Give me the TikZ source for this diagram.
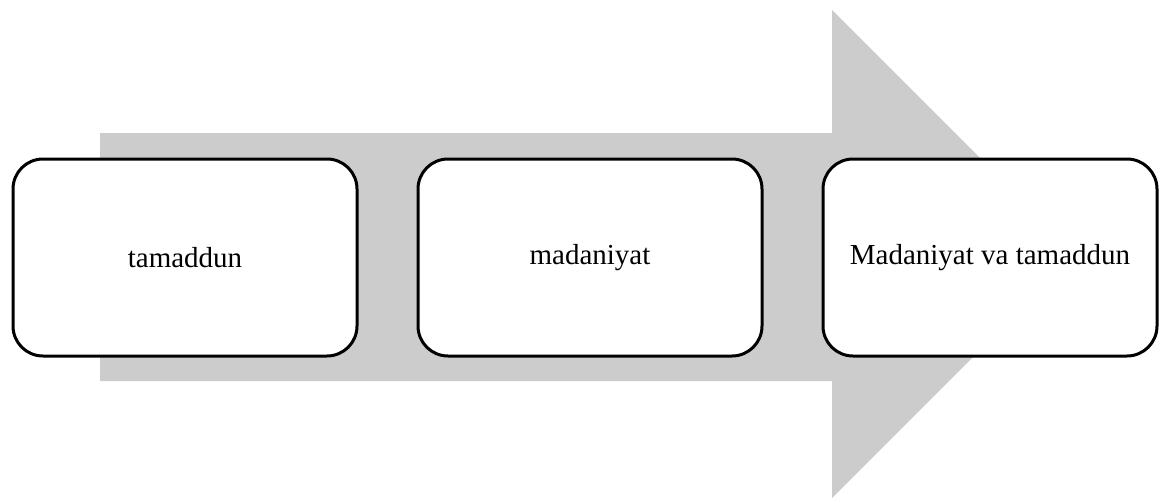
\documentclass[tikz,border=0pt]{standalone}
\usepackage{fontspec}
\setmainfont{Liberation Serif}
\usetikzlibrary{positioning}

\definecolor{arrowgray}{HTML}{CCCCCC}
\def\bigarrow{(100,133) -- (832,133) -- (832,10) -- (1076,254) -- (832,498) -- (832,381) -- (100,381) -- cycle}

\tikzset{
    stagebox/.style={draw, line width=3pt, rounded corners=30pt, fill=white,
        minimum width=344pt, minimum height=197pt, outer sep=0pt,
        inner sep=0pt, font=\fontsize{29}{34}\selectfont},
}

\begin{document}
\begin{tikzpicture}[x=1pt, y=-1pt, node distance=61pt]
    \useasboundingbox (0,0) rectangle (1160,499);
    % The gray arrow lies behind the three boxes
    \fill[arrowgray] \bigarrow;
    % Then the boxes, placed one after the other
    \node[stagebox] (tamaddun) at (185,257.5) {tamaddun};
    \node[stagebox, right=of tamaddun] (madaniyat) {madaniyat};
    \node[stagebox, right=of madaniyat, minimum width=334pt] (both) {Madaniyat va tamaddun};
\end{tikzpicture}
\end{document}
